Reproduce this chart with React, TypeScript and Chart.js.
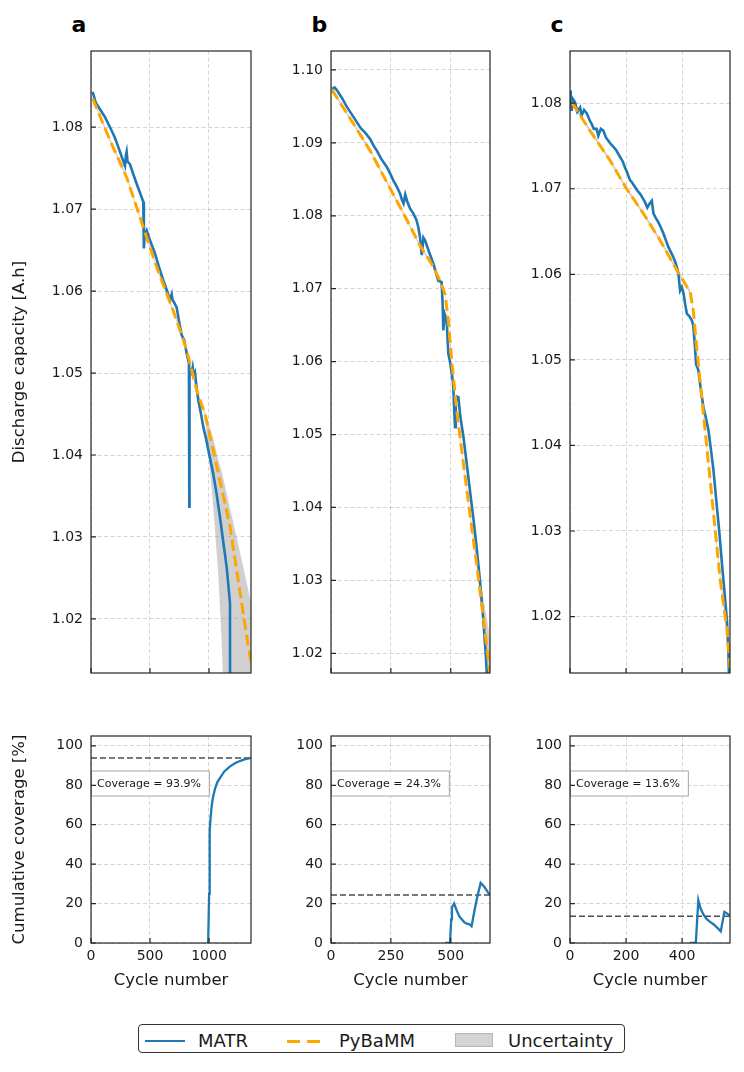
import React, { useEffect, useRef } from "react";
import { Chart, registerables } from "chart.js";

Chart.register(...registerables);

const FONT = "'DejaVu Sans', 'Noto Sans', sans-serif";
Chart.defaults.font.family = FONT;
Chart.defaults.color = "#1a1a1a";

// ---------------- DATA ----------------
// Panel a – discharge capacity
const aMatrCycles = [14, 40, 76, 120, 161, 200, 231, 260, 288, 296, 302, 310, 330, 360, 387, 415, 443, 447, 449, 455, 472, 500, 542, 575, 613, 650, 669, 684, 690, 726, 750, 769, 790, 811, 830, 833, 835, 853, 862, 870, 881, 895, 909, 930, 952, 975, 994, 1036, 1065, 1093, 1120, 1150, 1165, 1178, 1179];
const aMatrCap = [1.0843, 1.0830, 1.0822, 1.0812, 1.0800, 1.0788, 1.0776, 1.0764, 1.0753, 1.0766, 1.0770, 1.0758, 1.0755, 1.0742, 1.0731, 1.0720, 1.0709, 1.0690, 1.0652, 1.0668, 1.0674, 1.0662, 1.0646, 1.0630, 1.0613, 1.0598, 1.0589, 1.0596, 1.0590, 1.0580, 1.0560, 1.0546, 1.0540, 1.0524, 1.0512, 1.0337, 1.0505, 1.0500, 1.0507, 1.0498, 1.0501, 1.0482, 1.0467, 1.0452, 1.0434, 1.0420, 1.0406, 1.0377, 1.0352, 1.0324, 1.0295, 1.0263, 1.0240, 1.0219, 1.0050];
const aPyCycles = [14, 161, 302, 443, 557, 697, 769, 811, 896, 966, 1036, 1178, 1333, 1356];
const aPyCap = [1.0835, 1.0784, 1.0739, 1.0678, 1.0629, 1.0576, 1.0546, 1.0528, 1.0479, 1.0450, 1.0406, 1.0313, 1.0166, 1.0148];
const aBandCycles = [14, 161, 302, 443, 557, 697, 769, 811, 896, 966, 994, 1036, 1078, 1107, 1120, 1178, 1250, 1356];
const aBandLow = [1.0833, 1.0782, 1.0737, 1.0676, 1.0627, 1.0574, 1.0544, 1.0526, 1.0477, 1.0448, 1.0404, 1.0337, 1.0256, 1.0174, 1.0120, 0.9950, 0.9750, 0.9400];
const aBandHigh = [1.0837, 1.0786, 1.0741, 1.0680, 1.0631, 1.0578, 1.0548, 1.0530, 1.0481, 1.0452, 1.0440, 1.0420, 1.0395, 1.0380, 1.0372, 1.0335, 1.0290, 1.0220];

// Panel b – discharge capacity
const bMatrCycles = [4, 15, 25, 45, 67, 95, 122, 145, 164, 180, 192, 210, 233, 250, 261, 275, 289, 296, 303, 310, 318, 330, 344, 356, 365, 372, 379, 386, 393, 410, 428, 440, 448, 462, 466, 469, 475, 483, 490, 497, 504, 510, 515, 518, 521, 527, 532, 540, 553, 565, 580, 595, 608, 622, 636, 645, 650, 653];
const bMatrCap = [1.0974, 1.0976, 1.0972, 1.0962, 1.0949, 1.0935, 1.0921, 1.0913, 1.0905, 1.0895, 1.0889, 1.0878, 1.0867, 1.0856, 1.0848, 1.0840, 1.0830, 1.0822, 1.0817, 1.0829, 1.0820, 1.0810, 1.0803, 1.0795, 1.0784, 1.0770, 1.0746, 1.0770, 1.0766, 1.0750, 1.0734, 1.0720, 1.0711, 1.0709, 1.0680, 1.0643, 1.0665, 1.0657, 1.0611, 1.0600, 1.0584, 1.0570, 1.0530, 1.0510, 1.0545, 1.0552, 1.0551, 1.0525, 1.0497, 1.0465, 1.0424, 1.0384, 1.0346, 1.0300, 1.0246, 1.0205, 1.0177, 1.0160];
const bPyCycles = [4, 94, 164, 233, 303, 372, 428, 455, 476, 490, 504, 525, 553, 580, 608, 636, 657, 664];
const bPyCap = [1.0973, 1.0926, 1.0889, 1.0846, 1.0803, 1.0759, 1.0730, 1.0711, 1.0693, 1.0657, 1.0602, 1.0533, 1.0460, 1.0392, 1.0323, 1.0250, 1.0191, 1.0170];
const bBandLow = [1.0971, 1.0924, 1.0887, 1.0844, 1.0801, 1.0757, 1.0728, 1.0709, 1.0691, 1.0655, 1.0600, 1.0531, 1.0458, 1.0390, 1.0319, 1.0242, 1.0178, 1.0155];
const bBandHigh = [1.0975, 1.0928, 1.0891, 1.0848, 1.0805, 1.0761, 1.0732, 1.0713, 1.0695, 1.0659, 1.0604, 1.0535, 1.0462, 1.0396, 1.0335, 1.0275, 1.0236, 1.0220];

// Panel c – discharge capacity
const cMatrCycles = [2, 4, 6, 10, 18, 26, 36, 42, 50, 60, 70, 77, 85, 95, 101, 110, 119, 128, 137, 146, 155, 165, 179, 188, 196, 205, 214, 222, 232, 240, 250, 258, 268, 276, 285, 292, 298, 306, 315, 324, 333, 342, 351, 360, 369, 375, 381, 387, 393, 399, 405, 411, 417, 426, 435, 440, 446, 450, 458, 467, 476, 485, 494, 503, 512, 518, 524, 533, 542, 551, 560, 565, 568];
const cMatrCap = [1.0815, 1.0800, 1.0791, 1.0805, 1.0801, 1.0790, 1.0795, 1.0786, 1.0792, 1.0788, 1.0780, 1.0776, 1.0770, 1.0770, 1.0762, 1.0770, 1.0768, 1.0760, 1.0756, 1.0752, 1.0749, 1.0745, 1.0737, 1.0732, 1.0725, 1.0718, 1.0710, 1.0707, 1.0702, 1.0698, 1.0694, 1.0690, 1.0684, 1.0678, 1.0683, 1.0686, 1.0671, 1.0666, 1.0661, 1.0655, 1.0648, 1.0640, 1.0632, 1.0626, 1.0620, 1.0615, 1.0609, 1.0600, 1.0581, 1.0585, 1.0578, 1.0565, 1.0554, 1.0551, 1.0546, 1.0540, 1.0515, 1.0495, 1.0488, 1.0465, 1.0445, 1.0432, 1.0418, 1.0395, 1.0371, 1.0350, 1.0329, 1.0298, 1.0263, 1.0230, 1.0196, 1.0160, 1.0125];
const cPyCycles = [6, 71, 143, 202, 262, 321, 381, 429, 440, 452, 464, 488, 512, 536, 560, 569, 571];
const cPyCap = [1.0801, 1.0768, 1.0733, 1.0700, 1.0671, 1.0640, 1.0605, 1.0579, 1.0558, 1.0515, 1.0476, 1.0399, 1.0321, 1.0243, 1.0185, 1.0150, 1.0140];
const cBandLow = [1.0799, 1.0766, 1.0731, 1.0698, 1.0669, 1.0638, 1.0603, 1.0577, 1.0556, 1.0513, 1.0474, 1.0397, 1.0319, 1.0240, 1.0180, 1.0144, 1.0133];
const cBandHigh = [1.0803, 1.0770, 1.0735, 1.0702, 1.0673, 1.0642, 1.0607, 1.0581, 1.0560, 1.0517, 1.0478, 1.0402, 1.0325, 1.0250, 1.0195, 1.0165, 1.0158];

// Cumulative coverage
const aCovCycles = [993, 998, 1001, 1004, 1008, 1014, 1024, 1034, 1050, 1070, 1091, 1130, 1176, 1220, 1261, 1300, 1346, 1356];
const aCovValues = [0, 0, 25, 45, 57, 64, 70, 74, 78, 81.5, 83.5, 87, 89.5, 91.2, 92.3, 93.1, 93.8, 93.9];
const bCovCycles = [476, 497, 502, 505, 514, 525, 536, 546, 557, 567, 578, 587, 600, 612, 625, 640, 655, 664];
const bCovValues = [0, 0, 12, 18, 20, 16.5, 13.5, 12, 10.5, 9.8, 9.5, 8.5, 17, 24, 30.5, 28.5, 25.8, 24.3];
const cCovCycles = [428, 449, 458, 466, 476, 488, 500, 512, 525, 538, 551, 560, 571];
const cCovValues = [0, 0, 21.7, 17.5, 14.5, 12.1, 10.7, 9.5, 7.8, 5.9, 15.8, 15.0, 13.8];
const coverageTotals = [93.9, 24.3, 13.6];

// Axis extents and tick values
const xMaxes = [1356, 664, 571];
const xTickValues = [
  [0, 500, 1000],
  [0, 250, 500],
  [0, 200, 400],
];
const capMins = [1.0134, 1.0173, 1.0134];
const capMaxes = [1.0893, 1.1026, 1.0861];
const capTickValues = [
  [1.02, 1.03, 1.04, 1.05, 1.06, 1.07, 1.08],
  [1.02, 1.03, 1.04, 1.05, 1.06, 1.07, 1.08, 1.09, 1.1],
  [1.02, 1.03, 1.04, 1.05, 1.06, 1.07, 1.08],
];
const covTickValues = [0, 20, 40, 60, 80, 100];
const covMax = 105;
const panelLetters = ["a", "b", "c"];
const legendLabels = ["MATR", "PyBaMM", "Uncertainty"];

// ---------------- STYLE ----------------
const BLUE = "#1f77b4";
const ORANGE = "#ffa500";
const BAND = "rgba(150,150,150,0.45)";
const GRID = "rgba(0,0,0,0.16)";
const FRAME = "#262626";

const COLS = [
  { left: 91, right: 251, yW: 91 },
  { left: 331, right: 490, yW: 60 },
  { left: 570, right: 730, yW: 60 },
];
const TOP_PLOT = { top: 51, bottom: 673 };
const BOT_PLOT = { top: 736, bottom: 943 };
const PAD_TOP = 12;
const TOP_PAD_BOTTOM = 12;

const pts = (xs: number[], ys: number[]) => xs.map((x, i) => ({ x, y: ys[i] }));

const framePlugin = {
  id: "frame",
  afterDraw(chart: any) {
    const { ctx, chartArea: a, scales } = chart;
    ctx.save();
    ctx.strokeStyle = FRAME;
    ctx.lineWidth = 1.2;
    ctx.beginPath();
    const xs = scales.x;
    const ys = scales.y;
    xs.ticks.forEach((t: any) => {
      const px = xs.getPixelForValue(t.value);
      ctx.moveTo(px, a.bottom);
      ctx.lineTo(px, a.bottom - 5);
    });
    ys.ticks.forEach((t: any) => {
      const py = ys.getPixelForValue(t.value);
      ctx.moveTo(a.left, py);
      ctx.lineTo(a.left + 5, py);
    });
    ctx.stroke();
    ctx.strokeRect(a.left, a.top, a.right - a.left, a.bottom - a.top);
    ctx.restore();
  },
};

const coverageBoxPlugin = {
  id: "coverageBox",
  afterDatasetsDraw(chart: any, _args: any, opts: any) {
    if (!opts || !opts.text) return;
    const { ctx, chartArea: a } = chart;
    ctx.save();
    ctx.font = `11px ${FONT}`;
    const tw = ctx.measureText(opts.text).width;
    const h = 25;
    const x = a.left;
    const yc = a.top + 47.5;
    ctx.fillStyle = "rgba(255,255,255,0.85)";
    ctx.fillRect(x, yc - h / 2, tw + 14, h);
    ctx.strokeStyle = "#a6a6a6";
    ctx.lineWidth = 1;
    ctx.strokeRect(x + 0.5, yc - h / 2, tw + 14, h);
    ctx.fillStyle = "#1a1a1a";
    ctx.textBaseline = "middle";
    ctx.fillText(opts.text, x + 6, yc + 0.5);
    ctx.restore();
  },
};

function baseScales(i: number, yMin: number, yMax: number, yTicks: number[], isTop: boolean, yTitle: string | null, xHeight: number) {
  const yW = COLS[i].yW;
  const xTicks = xTickValues[i];
  return {
    x: {
      type: "linear",
      min: 0,
      max: xMaxes[i],
      afterBuildTicks: (s: any) => {
        s.ticks = xTicks.map((v) => ({ value: v }));
      },
      afterFit: (s: any) => {
        s.height = xHeight;
      },
      ticks: {
        display: !isTop,
        padding: 5,
        maxRotation: 0,
        autoSkip: false,
        font: { size: 14 },
        color: "#1a1a1a",
        callback: (v: any) => String(Math.round(Number(v))),
      },
      grid: { color: GRID, lineWidth: 1, drawTicks: false },
      border: { display: false, dash: [4, 2.5] },
      title: isTop
        ? { display: false }
        : { display: true, text: "Cycle number", font: { size: 16.5 }, color: "#1a1a1a", padding: { top: 0, bottom: 2 } },
    },
    y: {
      type: "linear",
      min: yMin,
      max: yMax,
      afterBuildTicks: (s: any) => {
        s.ticks = yTicks.map((v) => ({ value: v }));
      },
      afterFit: (s: any) => {
        s.width = yW;
      },
      ticks: {
        padding: 0,
        autoSkip: false,
        font: { size: 14 },
        color: "#1a1a1a",
        callback: (v: any) => (isTop ? Number(v).toFixed(2) : String(Math.round(Number(v)))),
      },
      grid: { color: GRID, lineWidth: 1, drawTicks: true, tickLength: 8, tickColor: "rgba(0,0,0,0)" },
      border: { display: false, dash: [4, 2.5] },
      title: yTitle
        ? { display: true, text: yTitle, font: { size: 16.5 }, color: "#1a1a1a", padding: { top: 10, bottom: 0 } }
        : { display: false },
    },
  };
}

const matrSets = [pts(aMatrCycles, aMatrCap), pts(bMatrCycles, bMatrCap), pts(cMatrCycles, cMatrCap)];
const pySets = [pts(aPyCycles, aPyCap), pts(bPyCycles, bPyCap), pts(cPyCycles, cPyCap)];
const bandLowSets = [pts(aBandCycles, aBandLow), pts(bPyCycles, bBandLow), pts(cPyCycles, cBandLow)];
const bandHighSets = [pts(aBandCycles, aBandHigh), pts(bPyCycles, bBandHigh), pts(cPyCycles, cBandHigh)];
const covSets = [pts(aCovCycles, aCovValues), pts(bCovCycles, bCovValues), pts(cCovCycles, cCovValues)];

function capacityConfig(i: number): any {
  return {
    type: "line",
    data: {
      datasets: [
        { label: "low", data: bandLowSets[i], borderWidth: 0, pointRadius: 0, fill: false, order: 4, borderColor: "rgba(0,0,0,0)" },
        { label: "Uncertainty", data: bandHighSets[i], borderWidth: 0, pointRadius: 0, fill: "-1", backgroundColor: BAND, borderColor: "rgba(0,0,0,0)", order: 3 },
        { label: "MATR", data: matrSets[i], borderColor: BLUE, borderWidth: 2.6, pointRadius: 0, fill: false, tension: 0, order: 2 },
        { label: "PyBaMM", data: pySets[i], borderColor: ORANGE, borderWidth: 3, borderDash: [11, 5], pointRadius: 0, fill: false, tension: 0, order: 1 },
      ],
    },
    options: {
      animation: false,
      responsive: false,
      maintainAspectRatio: false,
      events: [],
      layout: { padding: { left: 0, top: PAD_TOP, right: 8, bottom: TOP_PAD_BOTTOM } },
      plugins: { legend: { display: false }, tooltip: { enabled: false } },
      scales: baseScales(i, capMins[i], capMaxes[i], capTickValues[i], true, i === 0 ? "Discharge capacity [A.h]" : null, 0),
    },
    plugins: [framePlugin],
  };
}

function coverageConfig(i: number): any {
  const total = coverageTotals[i];
  return {
    type: "line",
    data: {
      datasets: [
        { label: "coverage", data: covSets[i], borderColor: BLUE, borderWidth: 2.3, pointRadius: 0, fill: false, tension: 0, order: 1 },
        { label: "total", data: [{ x: 0, y: total }, { x: xMaxes[i], y: total }], borderColor: "#4d4d4d", borderWidth: 1.5, borderDash: [6, 3], pointRadius: 0, fill: false, order: 2 },
      ],
    },
    options: {
      animation: false,
      responsive: false,
      maintainAspectRatio: false,
      events: [],
      layout: { padding: { left: 0, top: PAD_TOP, right: 8, bottom: 0 } },
      plugins: {
        legend: { display: false },
        tooltip: { enabled: false },
        coverageBox: { text: `Coverage = ${total.toFixed(1)}%` },
      },
      scales: baseScales(i, 0, covMax, covTickValues, false, i === 0 ? "Cumulative coverage [%]" : null, 50),
    },
    plugins: [coverageBoxPlugin, framePlugin],
  };
}

function ChartCanvas(props: { left: number; top: number; width: number; height: number; make: () => any }) {
  const ref = useRef<HTMLCanvasElement | null>(null);
  useEffect(() => {
    if (!ref.current) return;
    const chart = new Chart(ref.current, props.make());
    return () => chart.destroy();
  }, []);
  return (
    <canvas
      ref={ref}
      width={props.width}
      height={props.height}
      style={{ position: "absolute", left: props.left, top: props.top, width: props.width, height: props.height }}
    />
  );
}

export default function App() {
  const legendText: React.CSSProperties = {
    position: "absolute",
    top: 1032,
    fontFamily: FONT,
    fontSize: 18,
    lineHeight: "18px",
    color: "#1a1a1a",
    whiteSpace: "nowrap",
  };
  return (
    <div style={{ position: "absolute", left: 0, top: 0, width: 744, height: 1072, background: "#fff", fontFamily: FONT }}>
      {COLS.map((c, i) => (
        <React.Fragment key={i}>
          <div
            style={{
              position: "absolute",
              left: c.left - 19.6,
              top: 14,
              fontFamily: FONT,
              fontWeight: "bold",
              fontSize: 22,
              lineHeight: "22px",
              color: "#000",
            }}
          >
            {panelLetters[i]}
          </div>
          <ChartCanvas
            left={c.left - c.yW}
            top={TOP_PLOT.top - PAD_TOP}
            width={c.yW + (c.right - c.left) + 8}
            height={TOP_PLOT.bottom - TOP_PLOT.top + PAD_TOP + TOP_PAD_BOTTOM}
            make={() => capacityConfig(i)}
          />
          <ChartCanvas
            left={c.left - c.yW}
            top={BOT_PLOT.top - PAD_TOP}
            width={c.yW + (c.right - c.left) + 8}
            height={BOT_PLOT.bottom - BOT_PLOT.top + PAD_TOP + 50}
            make={() => coverageConfig(i)}
          />
        </React.Fragment>
      ))}
      <div
        style={{
          position: "absolute",
          left: 138,
          top: 1024,
          width: 487,
          height: 29,
          boxSizing: "border-box",
          border: "1.3px solid #333",
          borderRadius: 4,
        }}
      />
      <div style={{ position: "absolute", left: 145, top: 1039.5, width: 40, height: 2.5, background: BLUE }} />
      <div style={{ ...legendText, left: 198 }}>{legendLabels[0]}</div>
      <div style={{ position: "absolute", left: 287, top: 1039.5, width: 13, height: 3, background: ORANGE }} />
      <div style={{ position: "absolute", left: 307, top: 1039.5, width: 13, height: 3, background: ORANGE }} />
      <div style={{ ...legendText, left: 339 }}>{legendLabels[1]}</div>
      <div
        style={{
          position: "absolute",
          left: 455,
          top: 1033,
          width: 38,
          height: 14,
          boxSizing: "border-box",
          background: "#d3d3d3",
          border: "1px solid #b5b5b5",
        }}
      />
      <div style={{ ...legendText, left: 508 }}>{legendLabels[2]}</div>
    </div>
  );
}
